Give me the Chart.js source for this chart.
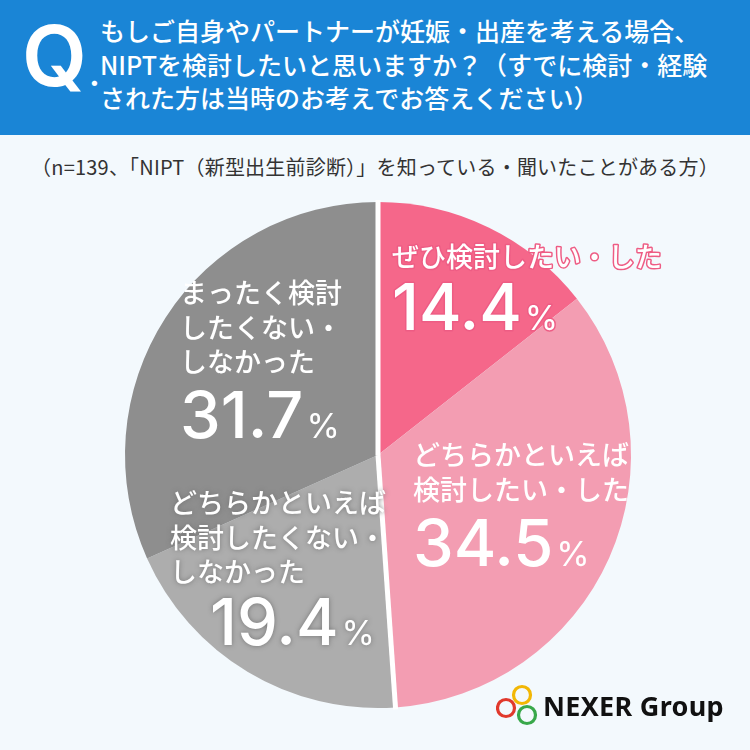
<!DOCTYPE html>
<html lang="ja">
<head>
<meta charset="utf-8">
<script src="https://cdn.jsdelivr.net/npm/chart.js@4.4.1/dist/chart.umd.min.js"></script>
<style>
  html, body { margin: 0; padding: 0; }
  body { width: 750px; height: 750px; background: #f3f9fd; position: relative; overflow: hidden;
         font-family: "Noto Sans CJK JP", "Noto Sans", sans-serif; }
  .head { position: absolute; left: 0; top: 0; width: 750px; height: 135px; background: #1a85d6; }
  .q { position: absolute; left: 22px; top: 6px; color: #fff; font-family: Inter, "Noto Sans", sans-serif;
       font-weight: 600; font-size: 84px; line-height: 100px; }
  .q span { font-size: 34px; margin-left: 2px; }
  .qtext { position: absolute; left: 100px; top: 14px; color: #fff; font-size: 25px; line-height: 33.5px;
           font-weight: 500; white-space: nowrap; }
  .sub { position: absolute; left: 0; top: 153px; width: 750px; text-align: center; color: #333;
         font-size: 20px; line-height: 28px; white-space: nowrap; letter-spacing: 0.2px; }
  #chart { position: absolute; left: 0; top: 0; }
  .logo { position: absolute; left: 496px; top: 684px; width: 240px; height: 46px; }
  .logo span { position: absolute; left: 47px; top: 2px; font-family: "Noto Sans", sans-serif; font-weight: 700;
               font-size: 27px; line-height: 40px; color: #111; letter-spacing: 0.3px; }
</style>
</head>
<body>
<div class="head">
  <div class="q">Q<span>.</span></div>
  <div class="qtext">もしご自身やパートナーが妊娠・出産を考える場合、<br>NIPTを検討したいと思いますか？（すでに検討・経験<br>された方は当時のお考えでお答えください）</div>
</div>
<div class="sub">（n=139、「NIPT（新型出生前診断）」を知っている・聞いたことがある方）</div>
<canvas id="chart" width="750" height="750"></canvas>
<div class="logo">
  <svg width="46" height="46" viewBox="0 0 46 46">
    <circle cx="26" cy="11" r="8.5" fill="none" stroke="#f2b705" stroke-width="3.2"/>
    <circle cx="10" cy="24" r="8.5" fill="none" stroke="#e1392c" stroke-width="3.2"/>
    <circle cx="31" cy="31" r="8.5" fill="none" stroke="#38a84a" stroke-width="3.2"/>
  </svg>
  <span>NEXER Group</span>
</div>
<script>
// 回答データ（時計回り、12時の位置から）
var categories = ['ぜひ検討したい・した', 'どちらかといえば検討したい・した', 'どちらかといえば検討したくない・しなかった', 'まったく検討したくない・しなかった'];
var percents = [14.4, 34.5, 19.4, 31.7];
var sliceColors = ['#f5678a', '#f39db2', '#adadad', '#8e8e8e'];

// ラベルの表示（改行・位置・縁取り）
var labelLines = [
    ['ぜひ検討したい・した'],
    ['どちらかといえば', '検討したい・した'],
    ['どちらかといえば', '検討したくない・', 'しなかった'],
    ['まったく検討', 'したくない・', 'しなかった']
];
var labelPos = [
    { x: 392, y: 257, numY: 330, numX: 392 },
    { x: 413, y: 455, numY: 566, numX: 413 },
    { x: 170, y: 503, numY: 645, numX: 210 },
    { x: 180, y: 293, numY: 438, numX: 180 }
];
var labelStroke = ['#ee5c84', null, null, null];
var labelShadow = [null, null, 'rgba(110,110,110,0.9)', null];

var labelPlugin = {
    id: 'sliceLabels',
    afterDatasetsDraw: function(chart) {
        var ctx = chart.ctx;
        var arcs = chart.getDatasetMeta(0).data;
        // ピンクとグレーの境目だけ白線
        ctx.save();
        ctx.strokeStyle = '#ffffff';
        ctx.lineWidth = 5;
        ctx.lineCap = 'butt';
        [0, 2].forEach(function(i) {
            var a = arcs[i];
            ctx.beginPath();
            ctx.moveTo(a.x, a.y);
            ctx.lineTo(a.x + Math.cos(a.startAngle) * (a.outerRadius + 2), a.y + Math.sin(a.startAngle) * (a.outerRadius + 2));
            ctx.stroke();
        });
        ctx.restore();

        labelLines.forEach(function(lines, i) {
            var p = labelPos[i];
            ctx.save();
            if (labelShadow[i]) {
                ctx.shadowColor = labelShadow[i];
                ctx.shadowBlur = 5;
            }
            ctx.textBaseline = 'middle';
            ctx.textAlign = 'left';
            ctx.font = '500 27px "Noto Sans CJK JP"';
            lines.forEach(function(t, k) {
                var y = p.y + k * 34.5;
                if (labelStroke[i]) {
                    ctx.lineJoin = 'round';
                    ctx.strokeStyle = labelStroke[i];
                    ctx.lineWidth = 3;
                    ctx.strokeText(t, p.x, y);
                }
                ctx.fillStyle = '#ffffff';
                ctx.fillText(t, p.x, y);
            });
            // 数値
            ctx.textBaseline = 'alphabetic';
            var num = percents[i].toFixed(1);
            var numFont = '500 65px Inter';
            var pctFont = '400 34px Inter';
            ctx.font = numFont;
            var w = ctx.measureText(num).width;
            var px = p.numX + w + 3;
            if (labelStroke[i]) {
                ctx.strokeStyle = labelStroke[i];
                ctx.lineWidth = 3;
                ctx.font = numFont;
                ctx.strokeText(num, p.numX, p.numY);
                ctx.font = pctFont;
                ctx.strokeText('%', px, p.numY);
            }
            ctx.fillStyle = '#ffffff';
            ctx.font = numFont;
            ctx.fillText(num, p.numX, p.numY);
            ctx.font = pctFont;
            ctx.fillText('%', px, p.numY);
            ctx.restore();
        });
    }
};

var ctx = document.getElementById('chart').getContext('2d');
var pieChart = new Chart(ctx, {
    type: 'pie',
    data: {
        labels: categories,
        datasets: [{
            data: percents,
            backgroundColor: sliceColors,
            borderWidth: 0
        }]
    },
    options: {
        responsive: false,
        animation: false,
        events: [],
        layout: { padding: { left: 125, right: 119, top: 202, bottom: 42 } },
        plugins: {
            legend: { display: false },
            tooltip: { enabled: false }
        }
    },
    plugins: [labelPlugin]
});
</script>
</body>
</html>
